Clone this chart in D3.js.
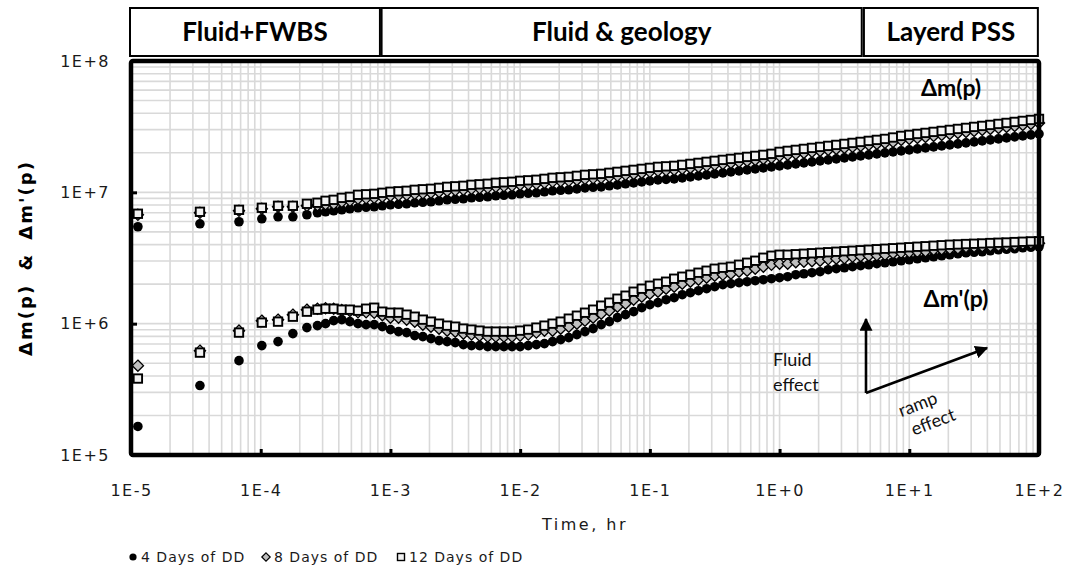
<!DOCTYPE html>
<html>
<head>
<meta charset="utf-8">
<script src="https://cdn.jsdelivr.net/npm/d3@7"></script>
<style>
  body { margin: 0; background: #ffffff; }
  svg { display: block; }
</style>
</head>
<body>
<svg id="chart" width="1066" height="570"></svg>
<script>
// Elapsed time of the drawdown, hr
const timeHr = [
  1.13e-5, 3.4e-5, 6.8e-5, 1.02e-4, 1.36e-4, 1.77e-4, 2.27e-4,
  2.738e-4, 3.162e-4, 3.652e-4, 4.217e-4, 4.870e-4, 5.623e-4, 6.494e-4, 7.499e-4, 8.660e-4,
  1.000e-3, 1.155e-3, 1.334e-3, 1.540e-3, 1.778e-3, 2.054e-3, 2.371e-3, 2.738e-3, 3.162e-3, 3.652e-3, 4.217e-3, 4.870e-3, 5.623e-3, 6.494e-3, 7.499e-3, 8.660e-3,
  1.000e-2, 1.155e-2, 1.334e-2, 1.540e-2, 1.778e-2, 2.054e-2, 2.371e-2, 2.738e-2, 3.162e-2, 3.652e-2, 4.217e-2, 4.870e-2, 5.623e-2, 6.494e-2, 7.499e-2, 8.660e-2,
  1.000e-1, 1.155e-1, 1.334e-1, 1.540e-1, 1.778e-1, 2.054e-1, 2.371e-1, 2.738e-1, 3.162e-1, 3.652e-1, 4.217e-1, 4.870e-1, 5.623e-1, 6.494e-1, 7.499e-1, 8.660e-1,
  1.000, 1.155, 1.334, 1.540, 1.778, 2.054, 2.371, 2.738, 3.162, 3.652, 4.217, 4.870, 5.623, 6.494, 7.499, 8.660,
  10.00, 11.55, 13.34, 15.40, 17.78, 20.54, 23.71, 27.38, 31.62, 36.52, 42.17, 48.70, 56.23, 64.94, 74.99, 86.60,
  100.0
];

// Δm(p) – pseudo-pressure change
const dm4 = [
  5.47e6, 5.76e6, 5.97e6, 6.29e6, 6.51e6, 6.51e6, 6.75e6,
  6.99e6, 7.11e6, 7.24e6, 7.36e6, 7.49e6, 7.63e6, 7.69e6, 7.76e6, 7.90e6,
  8.04e6, 8.11e6, 8.18e6, 8.32e6, 8.40e6, 8.47e6, 8.62e6, 8.77e6, 8.85e6, 8.93e6, 9.09e6, 9.17e6, 9.25e6, 9.41e6, 9.49e6, 9.58e6,
  9.75e6, 9.83e6, 9.92e6, 1.009e7, 1.027e7, 1.036e7, 1.045e7, 1.063e7, 1.082e7, 1.092e7, 1.101e7, 1.121e7, 1.140e7, 1.161e7, 1.181e7, 1.202e7,
  1.223e7, 1.245e7, 1.256e7, 1.267e7, 1.289e7, 1.312e7, 1.335e7, 1.359e7, 1.383e7, 1.407e7, 1.432e7, 1.457e7, 1.483e7, 1.509e7, 1.536e7, 1.563e7,
  1.591e7, 1.619e7, 1.647e7, 1.676e7, 1.706e7, 1.736e7, 1.767e7, 1.798e7, 1.830e7, 1.862e7, 1.895e7, 1.929e7, 1.963e7, 1.997e7, 2.033e7, 2.068e7,
  2.105e7, 2.142e7, 2.180e7, 2.219e7, 2.258e7, 2.298e7, 2.338e7, 2.380e7, 2.422e7, 2.464e7, 2.508e7, 2.552e7, 2.597e7, 2.643e7, 2.690e7, 2.737e7,
  2.786e7
];
const dm8 = [
  6.75e6, 6.99e6, 7.23e6, 7.50e6, 7.76e6, 7.76e6, 7.90e6,
  7.95e6, 8.10e6, 8.17e6, 8.46e6, 8.61e6, 8.93e6, 9.00e6, 9.08e6, 9.25e6,
  9.41e6, 9.49e6, 9.57e6, 9.74e6, 9.83e6, 9.92e6, 1.008e7, 1.026e7, 1.035e7, 1.045e7, 1.063e7, 1.073e7, 1.083e7, 1.102e7, 1.111e7, 1.121e7,
  1.141e7, 1.150e7, 1.161e7, 1.181e7, 1.202e7, 1.213e7, 1.223e7, 1.244e7, 1.267e7, 1.278e7, 1.289e7, 1.312e7, 1.335e7, 1.359e7, 1.382e7, 1.406e7,
  1.432e7, 1.457e7, 1.470e7, 1.483e7, 1.509e7, 1.535e7, 1.562e7, 1.591e7, 1.619e7, 1.647e7, 1.676e7, 1.706e7, 1.735e7, 1.766e7, 1.798e7, 1.830e7,
  1.895e7, 1.928e7, 1.962e7, 1.996e7, 2.032e7, 2.067e7, 2.104e7, 2.141e7, 2.179e7, 2.217e7, 2.256e7, 2.297e7, 2.337e7, 2.378e7, 2.420e7, 2.506e7,
  2.551e7, 2.596e7, 2.642e7, 2.690e7, 2.736e7, 2.785e7, 2.833e7, 2.885e7, 2.936e7, 2.986e7, 3.039e7, 3.093e7, 3.147e7, 3.203e7, 3.260e7, 3.317e7,
  3.377e7
];
const dm12 = [
  6.87e6, 7.11e6, 7.36e6, 7.63e6, 7.90e6, 7.90e6, 8.18e6,
  8.33e6, 8.62e6, 8.77e6, 9.08e6, 9.24e6, 9.58e6, 9.66e6, 9.74e6, 9.92e6,
  1.010e7, 1.018e7, 1.027e7, 1.045e7, 1.055e7, 1.064e7, 1.082e7, 1.101e7, 1.111e7, 1.121e7, 1.141e7, 1.151e7, 1.162e7, 1.182e7, 1.192e7, 1.203e7,
  1.224e7, 1.234e7, 1.246e7, 1.267e7, 1.290e7, 1.301e7, 1.312e7, 1.335e7, 1.359e7, 1.371e7, 1.383e7, 1.408e7, 1.432e7, 1.458e7, 1.483e7, 1.509e7,
  1.536e7, 1.563e7, 1.577e7, 1.591e7, 1.619e7, 1.647e7, 1.676e7, 1.707e7, 1.737e7, 1.767e7, 1.798e7, 1.830e7, 1.862e7, 1.895e7, 1.929e7, 1.965e7,
  2.033e7, 2.069e7, 2.105e7, 2.142e7, 2.180e7, 2.218e7, 2.258e7, 2.297e7, 2.338e7, 2.379e7, 2.421e7, 2.465e7, 2.508e7, 2.552e7, 2.615e7, 2.689e7,
  2.737e7, 2.785e7, 2.835e7, 2.886e7, 2.936e7, 2.988e7, 3.040e7, 3.095e7, 3.150e7, 3.204e7, 3.261e7, 3.319e7, 3.377e7, 3.437e7, 3.498e7, 3.559e7,
  3.623e7
];

// Δm'(p) – pseudo-pressure derivative
const dmp4 = [
  1.65e5, 3.38e5, 5.23e5, 6.81e5, 7.30e5, 8.40e5, 9.33e5,
  9.66e5, 1.000e6, 1.054e6, 1.073e6, 1.036e6, 1.000e6, 9.83e5, 9.83e5, 9.49e5,
  9.01e5, 8.70e5, 8.55e5, 8.11e5, 7.97e5, 7.69e5, 7.43e5, 7.30e5, 7.17e5, 6.93e5, 6.81e5, 6.81e5, 6.69e5, 6.69e5, 6.69e5, 6.69e5,
  6.69e5, 6.81e5, 6.93e5, 7.05e5, 7.30e5, 7.56e5, 7.83e5, 8.25e5, 8.70e5, 9.17e5, 9.83e5, 1.036e6, 1.111e6, 1.171e6, 1.234e6, 1.323e6,
  1.395e6, 1.445e6, 1.522e6, 1.577e6, 1.662e6, 1.721e6, 1.782e6, 1.846e6, 1.912e6, 1.980e6, 2.015e6, 2.050e6, 2.087e6, 2.124e6, 2.161e6, 2.199e6,
  2.238e6, 2.278e6, 2.359e6, 2.400e6, 2.443e6, 2.486e6, 2.575e6, 2.620e6, 2.666e6, 2.714e6, 2.762e6, 2.810e6, 2.860e6, 2.910e6, 2.962e6, 3.014e6,
  3.067e6, 3.122e6, 3.177e6, 3.233e6, 3.290e6, 3.348e6, 3.407e6, 3.468e6, 3.498e6, 3.529e6, 3.591e6, 3.655e6, 3.687e6, 3.719e6, 3.785e6, 3.818e6,
  3.852e6
];
const dmp8 = [
  4.79e5, 6.23e5, 8.85e5, 1.054e6, 1.073e6, 1.171e6, 1.278e6,
  1.300e6, 1.310e6, 1.300e6, 1.270e6, 1.250e6, 1.220e6, 1.220e6, 1.210e6, 1.160e6,
  1.110e6, 1.110e6, 1.073e6, 1.035e6, 9.83e5, 9.49e5, 9.16e5, 8.85e5, 8.69e5, 8.40e5, 8.26e5, 8.11e5, 7.97e5, 7.97e5, 7.97e5, 7.97e5,
  8.11e5, 8.26e5, 8.55e5, 8.85e5, 8.85e5, 9.16e5, 9.49e5, 1.000e6, 1.054e6, 1.111e6, 1.192e6, 1.256e6, 1.347e6, 1.420e6, 1.522e6, 1.605e6,
  1.691e6, 1.752e6, 1.846e6, 1.912e6, 2.015e6, 2.087e6, 2.161e6, 2.238e6, 2.318e6, 2.358e6, 2.401e6, 2.486e6, 2.530e6, 2.620e6, 2.714e6, 2.810e6,
  2.860e6, 2.860e6, 2.937e6, 2.962e6, 2.988e6, 3.015e6, 3.094e6, 3.122e6, 3.149e6, 3.233e6, 3.262e6, 3.291e6, 3.319e6, 3.348e6, 3.438e6, 3.468e6,
  3.498e6, 3.529e6, 3.559e6, 3.655e6, 3.686e6, 3.719e6, 3.739e6, 3.833e6, 3.851e6, 3.871e6, 3.900e6, 3.920e6, 3.938e6, 3.966e6, 4.059e6, 4.084e6,
  4.094e6
];
const dmp12 = [
  3.82e5, 6.02e5, 8.55e5, 1.018e6, 1.036e6, 1.130e6, 1.234e6,
  1.278e6, 1.300e6, 1.300e6, 1.278e6, 1.278e6, 1.256e6, 1.300e6, 1.323e6, 1.234e6,
  1.212e6, 1.212e6, 1.171e6, 1.130e6, 1.073e6, 1.036e6, 1.000e6, 9.66e5, 9.49e5, 9.17e5, 9.01e5, 8.85e5, 8.70e5, 8.70e5, 8.70e5, 8.70e5,
  8.85e5, 9.01e5, 9.33e5, 9.66e5, 1.000e6, 1.036e6, 1.092e6, 1.150e6, 1.212e6, 1.278e6, 1.371e6, 1.445e6, 1.549e6, 1.633e6, 1.751e6, 1.846e6,
  1.945e6, 2.015e6, 2.087e6, 2.199e6, 2.278e6, 2.359e6, 2.443e6, 2.530e6, 2.620e6, 2.666e6, 2.714e6, 2.810e6, 2.910e6, 3.014e6, 3.177e6, 3.290e6,
  3.348e6, 3.348e6, 3.378e6, 3.407e6, 3.437e6, 3.468e6, 3.498e6, 3.529e6, 3.560e6, 3.591e6, 3.623e6, 3.655e6, 3.687e6, 3.719e6, 3.752e6, 3.785e6,
  3.818e6, 3.852e6, 3.885e6, 3.920e6, 3.954e6, 3.989e6, 4.010e6, 4.040e6, 4.059e6, 4.080e6, 4.110e6, 4.131e6, 4.150e6, 4.180e6, 4.204e6, 4.230e6,
  4.240e6
];

const seriesNames = ["4 Days of DD", "8 Days of DD", "12 Days of DD"];
const xTickValues = [1e-5, 1e-4, 1e-3, 1e-2, 1e-1, 1e0, 1e1, 1e2];
const xTickLabels = ["1E-5", "1E-4", "1E-3", "1E-2", "1E-1", "1E+0", "1E+1", "1E+2"];
const yTickValues = [1e5, 1e6, 1e7, 1e8];
const yTickLabels = ["1E+5", "1E+6", "1E+7", "1E+8"];

// Flow-regime bands along the time axis
const phaseLabels = ["Fluid+FWBS", "Fluid & geology", "Layerd PSS"];
const phaseStart = [1e-5, 8.7e-4, 4.55];
const phaseEnd = [8.3e-4, 4.3, 98];

const plot = { left: 131, right: 1039, top: 61, bottom: 455 };

const svg = d3.select("#chart");
const x = d3.scaleLog().domain([1e-5, 1e2]).range([plot.left, plot.right]);
const y = d3.scaleLog().domain([1e5, 1e8]).range([plot.bottom, plot.top]);

const tickFont = "'DejaVu Sans', sans-serif";
const noteFont = "Lato, 'Open Sans', sans-serif";

// ---- gridlines (major + minor on both log axes)
const grid = svg.append("g").attr("stroke", "#d9d9d9").attr("stroke-width", 1.6);
grid.selectAll("line.gx").data(x.ticks()).join("line")
  .attr("class", "gx")
  .attr("x1", d => x(d)).attr("x2", d => x(d))
  .attr("y1", plot.top).attr("y2", plot.bottom);
grid.selectAll("line.gy").data(y.ticks()).join("line")
  .attr("class", "gy")
  .attr("y1", d => y(d)).attr("y2", d => y(d))
  .attr("x1", plot.left).attr("x2", plot.right);

// ---- axes
const xAxis = d3.axisBottom(x)
  .tickValues(xTickValues)
  .tickFormat((d, i) => xTickLabels[i])
  .tickSizeInner(-6).tickSizeOuter(0).tickPadding(30);
const gx = svg.append("g").attr("transform", `translate(0,${plot.bottom})`).call(xAxis);
gx.select(".domain").remove();
gx.selectAll(".tick line").attr("stroke", "#000").attr("stroke-width", 3);
gx.selectAll(".tick text")
  .attr("font-family", tickFont).attr("font-size", 16)
  .attr("letter-spacing", "1.5px").attr("fill", "#1a1a1a");

const yAxis = d3.axisLeft(y)
  .tickValues(yTickValues)
  .tickFormat((d, i) => yTickLabels[i])
  .tickSizeInner(-6).tickSizeOuter(0).tickPadding(21);
const gy = svg.append("g").attr("transform", `translate(${plot.left},0)`).call(yAxis);
gy.select(".domain").remove();
gy.selectAll(".tick line").attr("stroke", "#000").attr("stroke-width", 3);
gy.selectAll(".tick text")
  .attr("font-family", tickFont).attr("font-size", 16)
  .attr("letter-spacing", "1.5px").attr("fill", "#1a1a1a");

// ---- axis titles
svg.append("text")
  .attr("transform", `translate(32,${(plot.top + plot.bottom) / 2}) rotate(-90)`)
  .attr("text-anchor", "middle")
  .attr("font-family", tickFont).attr("font-weight", "bold").attr("font-size", 18)
  .attr("letter-spacing", "2px").attr("word-spacing", "5px")
  .text("\u0394m(p) & \u0394m'(p)");

svg.append("text")
  .attr("x", (plot.left + plot.right) / 2).attr("y", 530)
  .attr("text-anchor", "middle")
  .attr("font-family", tickFont).attr("font-size", 16)
  .attr("letter-spacing", "2.5px").attr("fill", "#1a1a1a")
  .text("Time, hr");

// ---- markers
const diamondPath = r => `M0,${-r}L${r},0L0,${r}L${-r},0Z`;
const marks = svg.append("g");

function drawCircles(vals) {
  marks.append("g").selectAll("circle").data(d3.zip(timeHr, vals)).join("circle")
    .attr("cx", d => x(d[0])).attr("cy", d => y(d[1])).attr("r", 4.8)
    .attr("fill", "#000");
}
function drawDiamonds(vals) {
  marks.append("g").selectAll("path").data(d3.zip(timeHr, vals)).join("path")
    .attr("transform", d => `translate(${x(d[0])},${y(d[1])})`)
    .attr("d", diamondPath(5.6))
    .attr("fill", "#bfbfbf").attr("stroke", "#000").attr("stroke-width", 1.3);
}
function drawSquares(vals) {
  const s = 8.4;
  marks.append("g").selectAll("rect").data(d3.zip(timeHr, vals)).join("rect")
    .attr("x", d => x(d[0]) - s / 2).attr("y", d => y(d[1]) - s / 2)
    .attr("width", s).attr("height", s)
    .attr("fill", "#f2f2f2").attr("stroke", "#000").attr("stroke-width", 1.9);
}
drawCircles(dmp4); drawCircles(dm4);
drawDiamonds(dmp8); drawDiamonds(dm8);
drawSquares(dmp12); drawSquares(dm12);

// ---- plot frame
svg.append("rect")
  .attr("x", plot.left).attr("y", plot.top)
  .attr("width", plot.right - plot.left).attr("height", plot.bottom - plot.top)
  .attr("rx", 2)
  .attr("fill", "none").attr("stroke", "#000").attr("stroke-width", 4.5);

// ---- flow-regime boxes
const phases = svg.append("g");
phaseLabels.forEach((label, i) => {
  const x0 = x(phaseStart[i]) - 1, x1 = x(phaseEnd[i]);
  phases.append("rect")
    .attr("x", x0).attr("y", 8).attr("width", x1 - x0).attr("height", 48)
    .attr("fill", "#fff").attr("stroke", "#000").attr("stroke-width", 2);
  phases.append("text")
    .attr("x", (x0 + x1) / 2).attr("y", 41)
    .attr("text-anchor", "middle")
    .attr("font-family", noteFont).attr("font-weight", "bold").attr("font-size", 26)
    .text(label);
});

// ---- curve labels
svg.append("text").attr("x", 951).attr("y", 96).attr("text-anchor", "middle")
  .attr("font-family", noteFont).attr("font-weight", "bold").attr("font-size", 23)
  .text("\u0394m(p)");
svg.append("text").attr("x", 956).attr("y", 307).attr("text-anchor", "middle")
  .attr("font-family", noteFont).attr("font-weight", "bold").attr("font-size", 23)
  .text("\u0394m'(p)");

// ---- effect arrows
const defs = svg.append("defs");
defs.append("marker")
  .attr("id", "head").attr("viewBox", "0 0 10 10")
  .attr("refX", 9).attr("refY", 5)
  .attr("markerWidth", 5).attr("markerHeight", 5)
  .attr("markerUnits", "strokeWidth")
  .attr("orient", "auto")
  .append("path").attr("d", "M0,0L10,5L0,10Z").attr("fill", "#000");

const origin = [866, 393];
svg.append("line")
  .attr("x1", origin[0]).attr("y1", origin[1]).attr("x2", origin[0]).attr("y2", 319)
  .attr("stroke", "#000").attr("stroke-width", 2.6).attr("marker-end", "url(#head)");
svg.append("line")
  .attr("x1", origin[0]).attr("y1", origin[1]).attr("x2", 987).attr("y2", 348)
  .attr("stroke", "#000").attr("stroke-width", 2.6).attr("marker-end", "url(#head)");

const fluidNote = svg.append("text")
  .attr("font-family", noteFont).attr("font-size", 18).attr("fill", "#111");
fluidNote.append("tspan").attr("x", 773).attr("y", 366).text("Fluid");
fluidNote.append("tspan").attr("x", 773).attr("y", 391).text("effect");

const rampNote = svg.append("text")
  .attr("transform", "translate(920,410) rotate(-21)")
  .attr("text-anchor", "middle")
  .attr("font-family", noteFont).attr("font-size", 18).attr("fill", "#111");
rampNote.append("tspan").attr("x", 0).attr("y", 0).text("ramp");
rampNote.append("tspan").attr("x", 8).attr("y", 22).text("effect");

// ---- legend
const legend = svg.append("g").attr("transform", "translate(0,557)");
const legendX = [133, 266, 401];
legend.append("circle").attr("cx", legendX[0]).attr("cy", 0).attr("r", 3.6).attr("fill", "#000");
legend.append("path").attr("transform", `translate(${legendX[1]},0)`).attr("d", diamondPath(4.2))
  .attr("fill", "#bfbfbf").attr("stroke", "#000").attr("stroke-width", 1.2);
legend.append("rect").attr("x", legendX[2] - 3.5).attr("y", -3.5).attr("width", 7).attr("height", 7)
  .attr("fill", "#f2f2f2").attr("stroke", "#000").attr("stroke-width", 1.4);
seriesNames.forEach((name, i) => {
  legend.append("text")
    .attr("x", legendX[i] + 8).attr("y", 5)
    .attr("font-family", tickFont).attr("font-size", 14)
    .attr("letter-spacing", "1px").attr("fill", "#1a1a1a")
    .text(name);
});
</script>
</body>
</html>
